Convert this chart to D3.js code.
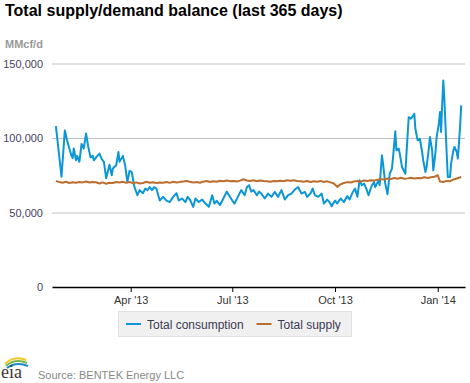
<!DOCTYPE html>
<html>
<head>
<meta charset="utf-8">
<script src="https://cdn.jsdelivr.net/npm/d3@7"></script>
<style>
  html, body { margin: 0; padding: 0; background: #fff; }
  svg { display: block; font-family: Arial, "Liberation Sans", sans-serif; }
</style>
</head>
<body>
<svg id="chart" width="470" height="383"></svg>
<script>
// ---------- data ----------
const consumptionDates = [
  "2013-01-24","2013-01-29","2013-02-01","2013-02-03","2013-02-05","2013-02-07","2013-02-08","2013-02-09",
  "2013-02-11","2013-02-12","2013-02-14","2013-02-16","2013-02-18","2013-02-20","2013-02-22","2013-02-24",
  "2013-02-26","2013-02-27","2013-03-01","2013-03-04","2013-03-06","2013-03-08","2013-03-10","2013-03-11",
  "2013-03-13","2013-03-15","2013-03-16","2013-03-19","2013-03-21","2013-03-22","2013-03-25","2013-03-27",
  "2013-03-29","2013-03-31","2013-04-02","2013-04-04","2013-04-07","2013-04-09","2013-04-12","2013-04-14",
  "2013-04-16","2013-04-18","2013-04-20","2013-04-22","2013-04-24","2013-04-27","2013-04-30","2013-05-03",
  "2013-05-06","2013-05-09","2013-05-12","2013-05-14","2013-05-17","2013-05-20","2013-05-22","2013-05-24",
  "2013-05-27","2013-05-29","2013-06-01","2013-06-04","2013-06-07","2013-06-10","2013-06-13","2013-06-15",
  "2013-06-17","2013-06-20","2013-06-23","2013-06-26","2013-06-28","2013-07-01","2013-07-03","2013-07-06",
  "2013-07-09","2013-07-12","2013-07-14","2013-07-16","2013-07-18","2013-07-20","2013-07-23","2013-07-25",
  "2013-07-27","2013-07-30","2013-08-02","2013-08-05","2013-08-08","2013-08-11","2013-08-14","2013-08-17",
  "2013-08-20","2013-08-23","2013-08-26","2013-08-29","2013-09-01","2013-09-04","2013-09-06","2013-09-09",
  "2013-09-11","2013-09-13","2013-09-16","2013-09-19","2013-09-21","2013-09-24","2013-09-26","2013-09-28",
  "2013-10-01","2013-10-03","2013-10-06","2013-10-09","2013-10-12","2013-10-14","2013-10-17","2013-10-19",
  "2013-10-21","2013-10-23","2013-10-25","2013-10-27","2013-10-29","2013-10-31","2013-11-03","2013-11-05",
  "2013-11-06","2013-11-09","2013-11-10","2013-11-12","2013-11-13","2013-11-15","2013-11-17","2013-11-19",
  "2013-11-21","2013-11-22","2013-11-24","2013-11-25","2013-11-27","2013-11-28","2013-11-30","2013-12-03",
  "2013-12-04","2013-12-06","2013-12-08","2013-12-09","2013-12-11","2013-12-12","2013-12-14","2013-12-16",
  "2013-12-18","2013-12-19","2013-12-21","2013-12-22","2013-12-24","2013-12-25","2013-12-27","2013-12-28",
  "2013-12-30","2013-12-31","2014-01-02","2014-01-03","2014-01-04","2014-01-05","2014-01-06","2014-01-07",
  "2014-01-09","2014-01-10","2014-01-12","2014-01-13","2014-01-15","2014-01-16","2014-01-18","2014-01-19",
  "2014-01-21","2014-01-22"
];
const consumptionValues = [
  108000,74000,105000,98500,93000,88000,86500,93000,
  85000,88000,84000,96000,93000,103000,94000,87000,
  88000,85000,87000,89500,86000,84000,73000,76000,
  82000,75000,79500,81700,90600,84000,88000,81700,
  70500,78000,77000,68000,61600,65000,63000,66000,
  65000,67000,65000,67000,66000,58000,60500,58000,
  57000,60500,63000,58000,59400,57000,60500,58700,
  53800,59400,57000,58700,56000,53800,61600,56000,
  57800,55000,59400,64000,61600,58000,56000,60500,
  65000,61600,67000,68300,64000,65000,61600,64000,
  62700,59400,62700,60500,63800,60500,65000,58700,
  61600,62700,65400,67000,62700,63800,60500,62700,
  66000,61600,60500,62700,56000,58700,57000,54200,
  58000,56000,59400,57000,61000,58700,63800,66000,
  60500,71600,68300,69400,66000,61600,68300,70500,
  67000,71600,68300,88400,82800,69400,62300,76000,
  79500,87300,104500,91700,92900,89500,80500,76000,
  89500,114000,113000,114000,116300,106000,98400,99500,
  90600,85000,77200,80500,92900,100600,91700,78300,
  90600,100600,109600,117400,104000,123000,138600,125000,
  89500,73900,73900,82800,91700,94000,90600,86200,
  107300,121900
];

const supplyDates = [
  "2013-01-24","2013-01-27","2013-01-30","2013-02-02","2013-02-05","2013-02-08","2013-02-11","2013-02-14",
  "2013-02-17","2013-02-20","2013-02-23","2013-02-26","2013-03-01","2013-03-04","2013-03-07","2013-03-10",
  "2013-03-13","2013-03-16","2013-03-19","2013-03-22","2013-03-25","2013-03-28","2013-03-31","2013-04-03",
  "2013-04-06","2013-04-09","2013-04-12","2013-04-15","2013-04-18","2013-04-21","2013-04-24","2013-04-27",
  "2013-04-30","2013-05-03","2013-05-06","2013-05-09","2013-05-12","2013-05-15","2013-05-18","2013-05-21",
  "2013-05-24","2013-05-27","2013-05-30","2013-06-02","2013-06-05","2013-06-08","2013-06-11","2013-06-14",
  "2013-06-17","2013-06-20","2013-06-23","2013-06-26","2013-06-29","2013-07-02","2013-07-05","2013-07-08",
  "2013-07-11","2013-07-14","2013-07-17","2013-07-20","2013-07-23","2013-07-26","2013-07-29","2013-08-01",
  "2013-08-04","2013-08-07","2013-08-10","2013-08-13","2013-08-16","2013-08-19","2013-08-22","2013-08-25",
  "2013-08-28","2013-08-31","2013-09-03","2013-09-06","2013-09-09","2013-09-12","2013-09-15","2013-09-18",
  "2013-09-21","2013-09-24","2013-09-27","2013-09-30","2013-10-03","2013-10-06","2013-10-09","2013-10-12",
  "2013-10-15","2013-10-18","2013-10-21","2013-10-24","2013-10-27","2013-10-30","2013-11-02","2013-11-05",
  "2013-11-08","2013-11-11","2013-11-14","2013-11-17","2013-11-20","2013-11-23","2013-11-26","2013-11-29",
  "2013-12-02","2013-12-05","2013-12-08","2013-12-11","2013-12-14","2013-12-17","2013-12-20","2013-12-23",
  "2013-12-26","2013-12-29","2014-01-01","2014-01-03","2014-01-06","2014-01-09","2014-01-12","2014-01-15",
  "2014-01-18","2014-01-22"
];
const supplyValues = [
  71200,70400,70000,70600,69800,70300,70000,70500,
  70200,70800,70100,70500,70300,69500,70200,69300,
  70000,69800,70500,70100,70600,69900,70500,69700,
  70200,69500,69800,70600,70000,70300,69700,70200,
  70000,70500,69900,70600,70100,70400,70800,71200,
  70600,70200,70500,70000,70700,71100,70500,71000,
  70600,71300,71000,71500,71000,71200,70800,71400,
  72300,71500,71100,71600,71000,71500,71200,71000,
  70700,71200,70900,71300,71000,71600,71300,71700,
  71200,71000,70600,71100,70500,71000,70700,71200,
  70500,70900,70200,69500,67200,69000,69800,70400,
  70100,70800,71100,70700,71500,71200,71700,71400,
  72000,72400,72100,72800,72500,73100,72700,73300,
  72600,72900,73300,72800,73200,73000,73600,73200,
  73600,74000,75000,70800,70500,71200,71000,72100,
  72800,73800
];

const yTicks = [0, 50000, 100000, 150000];
const xTickDates = ["2013-04-01","2013-07-01","2013-10-01","2014-01-01"];
const xTickLabels = ["Apr '13","Jul '13","Oct '13","Jan '14"];
const seriesNames = ["Total consumption","Total supply"];
const seriesColors = ["#0b96d6","#bc6e2e"];

// ---------- drawing ----------
const parse = d3.utcParse("%Y-%m-%d");
const svg = d3.select("#chart");

const x = d3.scaleUtc()
  .domain([new Date(Date.UTC(2013,0,20,12)), new Date(Date.UTC(2014,0,25,10))])
  .range([52, 465]);
const y = d3.scaleLinear().domain([0,150000]).range([287, 63.5]);

// title
svg.append("text").attr("x",5).attr("y",16)
  .attr("font-size","16px").attr("font-weight","bold").attr("fill","#000")
  .text("Total supply/demand balance (last 365 days)");
svg.append("text").attr("x",5).attr("y",48)
  .attr("font-size","11px").attr("font-weight","bold").attr("fill","#999")
  .text("MMcf/d");

// gridlines + y labels
const yAxis = d3.axisLeft(y).tickValues(yTicks).tickSize(-(465-52)).tickFormat(d3.format(","));
const gy = svg.append("g").attr("transform","translate(52,0)").call(yAxis);
gy.select(".domain").remove();
gy.selectAll(".tick line").attr("stroke","#c0c0c0").attr("stroke-width",1)
  .filter(d => d === 0).remove();
gy.selectAll(".tick text").attr("x",-9).attr("dy","0.36em")
  .attr("font-size","11px").attr("fill","#4a4060").attr("font-family","Arial, 'Liberation Sans', sans-serif");

// x axis
const xAxis = d3.axisBottom(x)
  .tickValues(xTickDates.map(parse))
  .tickFormat((d,i) => xTickLabels[i])
  .tickSize(5).tickSizeOuter(0);
const gx = svg.append("g").attr("transform","translate(0,287)").call(xAxis);
gx.select(".domain").attr("stroke","#000").attr("stroke-width",1.6);
gx.selectAll(".tick line").attr("stroke","#000").attr("stroke-width",1);
gx.selectAll(".tick text").attr("y",9).attr("font-size","11px").attr("fill","#333")
  .attr("font-family","Arial, 'Liberation Sans', sans-serif");

// lines
const line = d3.line().x(d => x(d[0])).y(d => y(d[1]));
const consumption = consumptionDates.map((d,i) => [parse(d), consumptionValues[i]]);
const supply = supplyDates.map((d,i) => [parse(d), supplyValues[i]]);
svg.append("path").datum(consumption).attr("d", line)
  .attr("fill","none").attr("stroke",seriesColors[0]).attr("stroke-width",2).attr("stroke-linejoin","round");
svg.append("path").datum(supply).attr("d", line)
  .attr("fill","none").attr("stroke",seriesColors[1]).attr("stroke-width",2).attr("stroke-linejoin","round");

// legend
const lg = svg.append("g");
lg.append("rect").attr("x",118.5).attr("y",311.5).attr("width",233).attr("height",25)
  .attr("fill","#f0f0f0").attr("stroke","#e0e0e0");
const legendX = [126, 256.5];
seriesNames.forEach((name,i) => {
  lg.append("line").attr("x1",legendX[i]).attr("x2",legendX[i]+15).attr("y1",324).attr("y2",324)
    .attr("stroke",seriesColors[i]).attr("stroke-width",2);
  lg.append("text").attr("x",legendX[i]+21).attr("y",328.5)
    .attr("font-size","12px").attr("fill","#3b3b55").text(name);
});

// source
svg.append("text").attr("x",38).attr("y",379).attr("font-size","11px").attr("fill","#888")
  .text("Source: BENTEK Energy LLC");

// eia logo
const logo = svg.append("g");
logo.append("path").attr("d","M5,364 Q14,355 26,360").attr("fill","none").attr("stroke","#f2c521").attr("stroke-width",2);
logo.append("path").attr("d","M6,366 Q15,358 27,363").attr("fill","none").attr("stroke","#7ab648").attr("stroke-width",2);
logo.append("path").attr("d","M7,368 Q16,361 28,366").attr("fill","none").attr("stroke","#1a8ccc").attr("stroke-width",2);
logo.append("text").attr("x",1).attr("y",378).attr("font-size","18px")
  .attr("font-family","'Liberation Serif', 'DejaVu Serif', serif").attr("fill","#3a3a3a").text("eia");
</script>
</body>
</html>
